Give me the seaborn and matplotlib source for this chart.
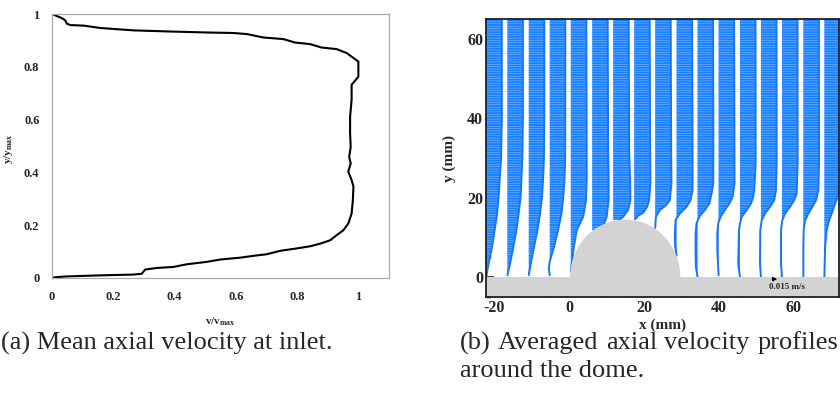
import numpy as np
import matplotlib
matplotlib.use("Agg")
import matplotlib.pyplot as plt
from matplotlib.patches import Ellipse, Rectangle
import seaborn as sns

# ---------------- data: (a) inlet profile ----------------
inlet_v = [0.0, 0.011, 0.049, 0.158, 0.266, 0.293, 0.304, 0.342, 0.397, 0.440, 0.505, 0.549,
           0.614, 0.658, 0.701, 0.745, 0.793, 0.842, 0.875, 0.908, 0.929, 0.951, 0.967,
           0.978, 0.982, 0.984, 0.978, 0.967, 0.975, 0.970, 0.975, 0.973, 0.973, 0.978,
           0.978, 0.992, 1.0, 1.0, 0.989, 0.962, 0.929, 0.880, 0.842, 0.793, 0.755, 0.690,
           0.636, 0.592, 0.505, 0.375, 0.266, 0.158, 0.103, 0.060, 0.049, 0.043, 0.033, 0.0]
inlet_y = [0.0, 0.003, 0.006, 0.010, 0.013, 0.016, 0.032, 0.038, 0.042, 0.052, 0.061, 0.070,
           0.077, 0.084, 0.090, 0.103, 0.111, 0.120, 0.130, 0.143, 0.162, 0.181, 0.206,
           0.244, 0.295, 0.346, 0.371, 0.403, 0.434, 0.459, 0.497, 0.548, 0.611, 0.675,
           0.732, 0.751, 0.763, 0.820, 0.829, 0.852, 0.867, 0.873, 0.886, 0.892, 0.905, 0.911,
           0.924, 0.928, 0.930, 0.934, 0.938, 0.947, 0.956, 0.958, 0.963, 0.976, 0.984, 1.0]
inlet_ticks = [0, 0.2, 0.4, 0.6, 0.8, 1.0]
inlet_ticklabels = ["0", "0.2", "0.4", "0.6", "0.8", "1"]

# ---------------- data: (b) velocity profiles (y in mm, u in mm/s) ----------------
station_x = [-22.0, -16.4, -10.7, -5.1, 0.5, 6.2, 11.8, 17.4, 23.0, 28.7,
             34.3, 39.9, 45.6, 51.2, 56.8, 62.5, 68.1]

y00 = [0, 1.8, 4.3, 7.6, 11.8, 16, 20.2, 24.4, 30, 40, 65]
u00 = [0, 1.4, 4.2, 8.0, 11.6, 15.0, 17.2, 18.6, 20.6, 21.7, 21.7]
y01 = [0.5, 3.4, 7.6, 11.8, 16, 20.2, 24.4, 30, 40, 65]
u01 = [0, 3.8, 8.4, 12.6, 15.8, 18.6, 19.6, 21.0, 21.8, 21.8]
y02 = [0.5, 3.4, 7.6, 11.8, 16, 20.2, 24.4, 30, 40, 65]
u02 = [0, 2.8, 7.4, 12.2, 15.8, 18.6, 20.0, 21.3, 21.8, 21.8]
y03 = [0.5, 2, 4, 7.6, 11.8, 16, 20.2, 24.4, 30, 65]
u03 = [0, -1.4, 0, 6.0, 11.6, 16.4, 18.9, 20.6, 21.6, 21.8]
y04 = [1.5, 7.6, 11.8, 15.2, 19.4, 25, 65]
u04 = [0, 4.3, 8.3, 17.4, 21.3, 22.4, 21.8]
y05 = [11.8, 12.5, 13.5, 15.2, 19.4, 24.4, 32, 65]
u05 = [7.0, 12.6, 16.8, 20.3, 23.1, 23.1, 22.4, 21.8]
y06 = [14.4, 15.2, 16.9, 19.4, 24.4, 32, 65]
u06 = [8.4, 14.0, 21.0, 24.2, 23.8, 22.4, 21.8]
y07 = [14.6, 15.5, 16.2, 17.7, 19.4, 23.6, 32, 65]
u07 = [1.4, 5.6, 12.6, 18.2, 21.0, 22.8, 22.4, 21.8]
y08 = [12.4, 15.2, 16.9, 18.1, 19.4, 23.6, 32, 65]
u08 = [0, 1.0, 6.6, 15.4, 20.6, 22.8, 22.4, 21.8]
y09 = [5.4, 8, 11, 14.4, 16, 17.7, 19.4, 21.9, 32, 65]
u09 = [0, -2.1, -2.4, -1.4, 4.6, 14.0, 19.6, 22.4, 22.4, 21.8]
y10 = [0, 2.6, 6.8, 11, 13.6, 15.2, 16.9, 18.5, 21, 23.6, 32, 65]
u10 = [0, -2.4, -2.8, -2.8, -1.4, 2.4, 10.2, 16.4, 19.6, 22.0, 22.1, 21.8]
y11 = [0.5, 6.8, 11, 13.6, 15.2, 16.9, 18.5, 20.2, 23.6, 65]
u11 = [0, -1.8, -1.8, -0.4, 2.8, 8.8, 15.0, 19.6, 22.4, 21.8]
y12 = [0, 3.4, 11.8, 13.5, 15.2, 16.9, 18.5, 20.2, 21.9, 28.6, 65]
u12 = [0, -2.4, -1.4, 0, 2.4, 9.4, 15.4, 18.6, 20.0, 22.0, 21.8]
y13 = [0, 3.4, 11.8, 14.3, 16, 17.7, 19.4, 21.9, 28.6, 65]
u13 = [0, -1.4, -1.0, 1.0, 5.6, 12.6, 18.6, 21.0, 22.0, 21.8]
y14 = [0, 3.4, 11.8, 14.3, 16, 17.7, 19.4, 21, 28.6, 65]
u14 = [0, -1.4, -1.4, 0.4, 4.2, 11.2, 17.2, 20.6, 22.0, 21.8]
y15 = [0, 7.6, 11.8, 14.3, 16, 17.7, 19.4, 21.9, 28.6, 65]
u15 = [0, 0, 0.4, 2.4, 7.0, 12.6, 17.8, 21.0, 22.0, 21.8]
y16 = [0, 7.6, 11.8, 14.3, 16, 18.5, 20.2, 24, 65]
u16 = [0, 1.0, 3.2, 6.6, 10.2, 15.0, 18.6, 21.0, 21.8]

profile_y = [y00, y01, y02, y03, y04, y05, y06, y07, y08, y09, y10, y11, y12, y13, y14, y15, y16]
profile_u = [u00, u01, u02, u03, u04, u05, u06, u07, u08, u09, u10, u11, u12, u13, u14, u15, u16]

dome_center_x = 15.0
dome_radius_x = 14.7
dome_height = 14.5
ref_speed = 15.0           # mm/s  -> "0.015 m/s"
ref_arrow_x = 53.4
x_ticks_b = [-20, 0, 20, 40, 60]
y_ticks_b = [0, 20, 40, 60]

caption_a = "(a) Mean axial velocity at inlet."
caption_b_words = ["(b)", "Averaged", "axial", "velocity", "profiles"]
caption_b_line2 = "around the dome."

ARROW_SCALE = 0.19         # display mm per (mm/s)

# ---------------- style ----------------
sns.set_theme(style="white")
plt.rcParams["font.family"] = ["Liberation Serif", "DejaVu Serif"]
plt.rcParams["mathtext.fontset"] = "custom"
plt.rcParams["mathtext.rm"] = "Liberation Serif"
plt.rcParams["mathtext.bf"] = "Liberation Serif:bold"
plt.rcParams["hatch.linewidth"] = 1.4
plt.rcParams["axes.unicode_minus"] = False

fig = plt.figure(figsize=(8.4, 3.97), dpi=100)

# ---------------- panel (a) ----------------
ax1 = fig.add_axes([52 / 840, 1 - 278 / 397, 337 / 840, 264 / 397])
sns.lineplot(x=inlet_v, y=inlet_y, sort=False, estimator=None, color="black",
             linewidth=1.5, ax=ax1)
ax1.set_xlim(0, 1.1)
ax1.set_ylim(0, 1.0)
ax1.set_xticks(inlet_ticks)
ax1.set_xticklabels(inlet_ticklabels)
ax1.set_yticks(inlet_ticks)
ax1.set_yticklabels(inlet_ticklabels)
ax1.tick_params(length=0, labelsize=9, pad=9)
for lab in ax1.get_xticklabels() + ax1.get_yticklabels():
    lab.set_fontweight("bold")
for sp in ax1.spines.values():
    sp.set_color("#a8a8a8")
    sp.set_linewidth(0.9)
ax1.set_xlabel(r"$\mathbf{v/v}_{\mathbf{max}}$", fontsize=8)
ax1.set_ylabel(r"$\mathbf{y/y}_{\mathbf{max}}$", fontsize=8)
ax1.xaxis.set_label_coords(0.5, -0.14)
ax1.yaxis.set_label_coords(-0.11, 0.49)

# ---------------- panel (b) ----------------
ax2 = fig.add_axes([486 / 840, 1 - 297 / 397, 353 / 840, 278 / 397])
FILL = "#9ccbff"
HATCH = "#1a80ff"
EDGE = "#1577f5"
for x0, ys, us in zip(station_x, profile_y, profile_u):
    xs = x0 + np.asarray(us) * ARROW_SCALE
    ax2.fill_betweenx(ys, x0, xs, facecolor=FILL, edgecolor=HATCH, hatch="-------",
                      linewidth=0, zorder=2)
    sns.lineplot(x=xs, y=ys, sort=False, estimator=None, color=EDGE, linewidth=1.4,
                 ax=ax2, zorder=3)

ax2.add_patch(Rectangle((-40, -10), 140, 10, facecolor="#d3d3d3", edgecolor="none", zorder=5))
ax2.add_patch(Ellipse((dome_center_x, 0), 2 * dome_radius_x, 2 * dome_height,
                      facecolor="#d3d3d3", edgecolor="none", zorder=5))

ax2.annotate("", xy=(ref_arrow_x + ref_speed * ARROW_SCALE, -0.5), xytext=(ref_arrow_x, -0.5),
             arrowprops=dict(arrowstyle="-|>", color="black", lw=0.8, mutation_scale=6),
             zorder=6)
ax2.text(ref_arrow_x, -2.6, "0.015 m/s", fontsize=6.5, fontweight="bold", va="center",
         ha="left", zorder=6)

ax2.set_xlim(-22.1, 72)
ax2.set_ylim(-5, 65)
ax2.set_xticks(x_ticks_b)
ax2.set_yticks(y_ticks_b)
ax2.set_xticks(np.arange(-20, 75, 5), minor=True)
ax2.set_yticks(np.arange(-5, 65, 5), minor=True)
ax2.tick_params(which="major", direction="in", length=6, width=1.2, labelsize=11.5, pad=2,
                bottom=True, left=True, top=False, right=False)
ax2.tick_params(which="minor", direction="in", length=3.5, width=1.0,
                bottom=True, left=True, top=False, right=False)
for lab in ax2.get_xticklabels() + ax2.get_yticklabels():
    lab.set_fontweight("bold")
for sp in ax2.spines.values():
    sp.set_color("#202020")
    sp.set_linewidth(1.3)
    sp.set_zorder(10)
ax2.set_xlabel("x (mm)", fontsize=11, fontweight="bold")
ax2.set_ylabel("y (mm)", fontsize=11, fontweight="bold")
ax2.xaxis.set_label_coords(0.5, -0.078)
ax2.yaxis.set_label_coords(-0.085, 0.5)

# ---------------- captions ----------------
CAP_FS = 19
fig.text(1 / 840, 1 - 343 / 397, caption_a, fontsize=CAP_FS, ha="left", va="center")

# justified first line of caption (b)
renderer = fig.canvas.get_renderer()
tmp = [fig.text(0, 0, w, fontsize=CAP_FS) for w in caption_b_words]
widths = [t.get_window_extent(renderer).width for t in tmp]
for t in tmp:
    t.remove()
left_px, right_px = 460, 838
gap = (right_px - left_px - sum(widths)) / (len(caption_b_words) - 1)
xpos = left_px
for w, wd in zip(caption_b_words, widths):
    fig.text(xpos / 840, 1 - 343 / 397, w, fontsize=CAP_FS, ha="left", va="center")
    xpos += wd + gap
fig.text(460 / 840, 1 - 371 / 397, caption_b_line2, fontsize=CAP_FS, ha="left", va="center")

fig.savefig("out.png", dpi=100)
